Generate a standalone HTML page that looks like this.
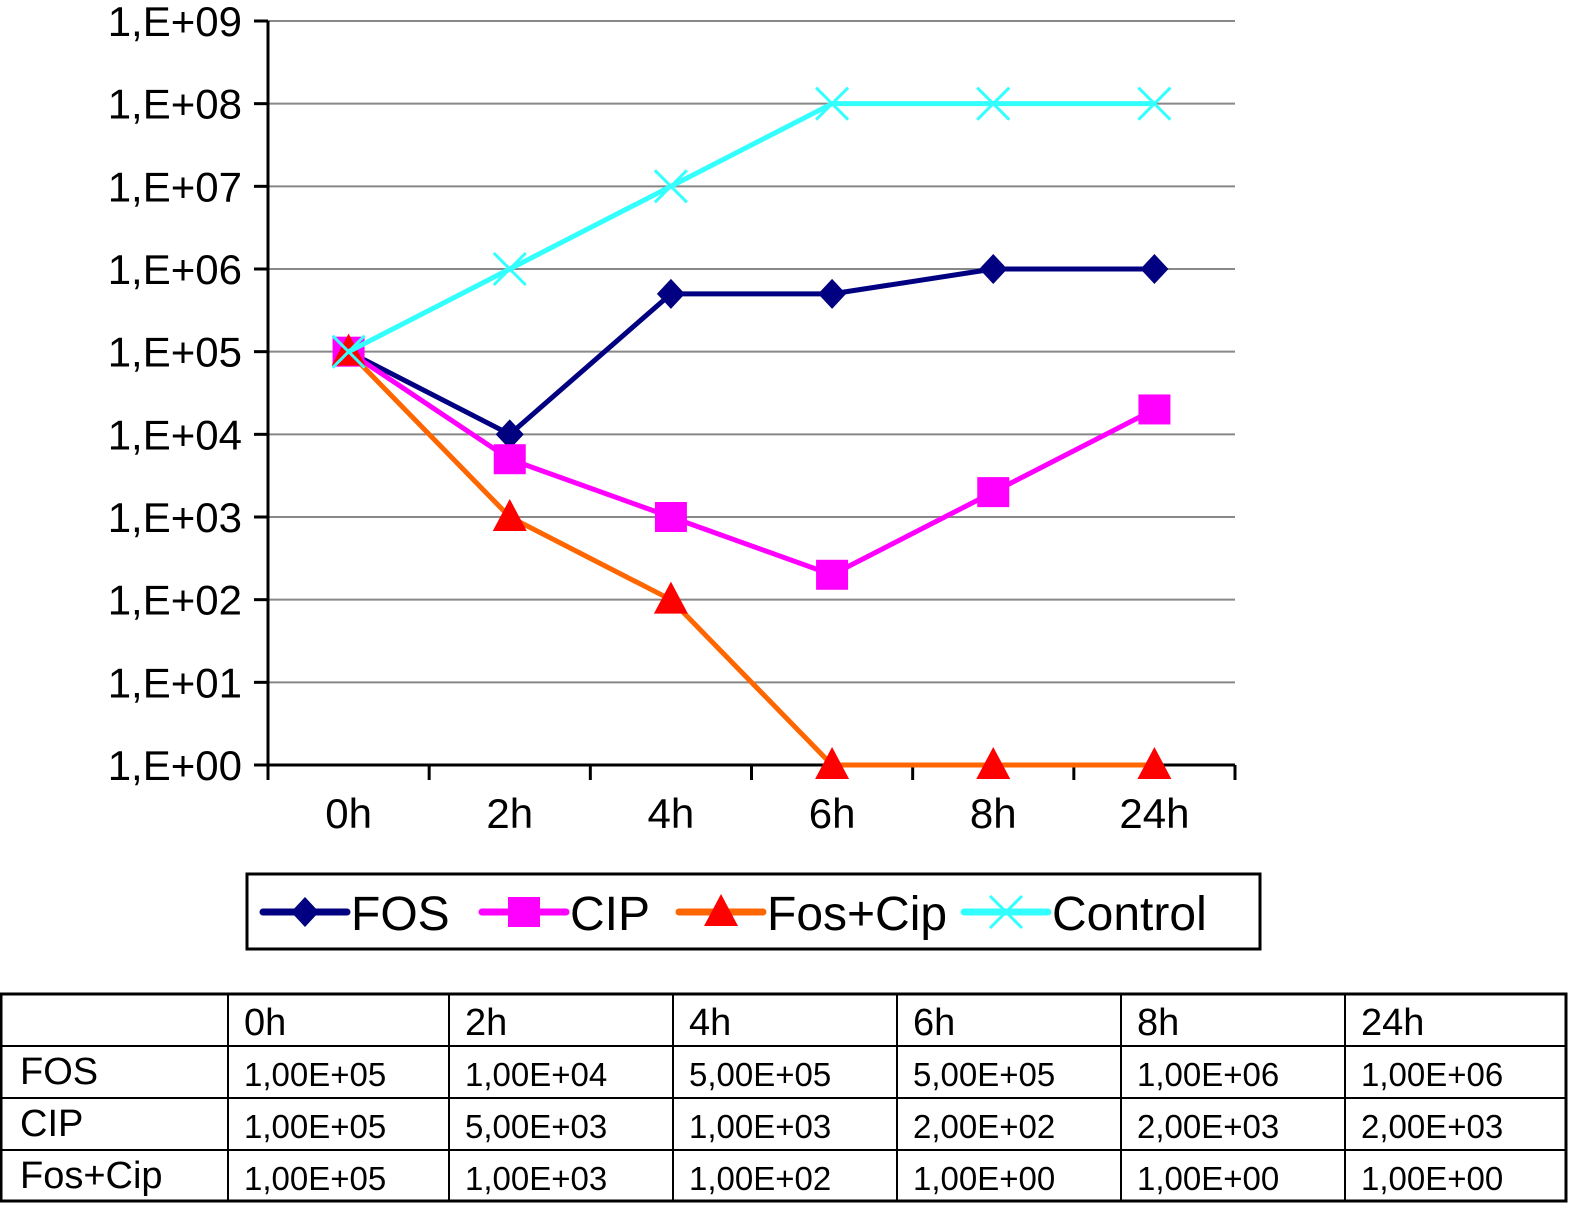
<!DOCTYPE html>
<html><head><meta charset="utf-8"><style>
body{margin:0;background:#fff;width:1583px;height:1213px;overflow:hidden;font-family:"Liberation Sans",sans-serif}
svg{position:absolute;left:0;top:0}
</style></head><body>
<svg id="chart" width="1583" height="1213"></svg>
<script>
const categories=["0h","2h","4h","6h","8h","24h"];
const fosValues=[1e5,1e4,5e5,5e5,1e6,1e6];
const cipValues=[1e5,5e3,1e3,2e2,2e3,2e4];
const fosCipValues=[1e5,1e3,1e2,1,1,1];
const controlValues=[1e5,1e6,1e7,1e8,1e8,1e8];
const yTickLabels=["1,E+00","1,E+01","1,E+02","1,E+03","1,E+04","1,E+05","1,E+06","1,E+07","1,E+08","1,E+09"];
const tableRows=[["FOS",["1,00E+05","1,00E+04","5,00E+05","5,00E+05","1,00E+06","1,00E+06"]],
["CIP",["1,00E+05","5,00E+03","1,00E+03","2,00E+02","2,00E+03","2,00E+03"]],
["Fos+Cip",["1,00E+05","1,00E+03","1,00E+02","1,00E+00","1,00E+00","1,00E+00"]]];

const svg=document.getElementById('chart');const NS='http://www.w3.org/2000/svg';
function el(t,a,p){const e=document.createElementNS(NS,t);for(const k in a)e.setAttribute(k,a[k]);(p||svg).appendChild(e);return e;}
const X0=268,X1=1235,Y0=765,Y1=21;
const bw=(X1-X0)/categories.length;
const xs=i=>X0+bw*(i+0.5);
const ys=v=>Y0-(Math.log10(v)/9)*(Y0-Y1);
yTickLabels.forEach((l,i)=>{const y=Y0-i*(Y0-Y1)/9;
 if(i>0){const g=el('line',{x1:X0,x2:X1,y1:y,y2:y,stroke:'#888','stroke-width':2});
 }
 el('line',{x1:X0-14,x2:X0,y1:y,y2:y,stroke:'#000','stroke-width':3});
 const t=el('text',{x:X0-26,y:y+15,'text-anchor':'end','font-size':42});t.textContent=l;
 });
el('line',{x1:X0,x2:X0,y1:Y1,y2:Y0,stroke:'#000','stroke-width':3});
el('line',{x1:X0,x2:X1,y1:Y0,y2:Y0,stroke:'#000','stroke-width':3});
for(let i=0;i<=categories.length;i++){const x=X0+i*bw;el('line',{x1:x,x2:x,y1:Y0,y2:Y0+15,stroke:'#000','stroke-width':3});}
categories.forEach((c,i)=>{const t=el('text',{x:xs(i),y:828,'text-anchor':'middle','font-size':42});t.textContent=c;
 });
function marker(type,x,y,col,g){
 if(type==='d')el('polygon',{points:`${x},${y-15} ${x+14},${y} ${x},${y+15} ${x-14},${y}`,fill:col},g);
 else if(type==='s')el('rect',{x:x-16,y:y-15,width:32,height:30,fill:col},g);
 else if(type==='t')el('polygon',{points:`${x},${y-18} ${x+17},${y+14} ${x-17},${y+14}`,fill:col},g);
 else{el('line',{x1:x-16,y1:y-16,x2:x+16,y2:y+16,stroke:col,'stroke-width':3},g);el('line',{x1:x-16,y1:y+16,x2:x+16,y2:y-16,stroke:col,'stroke-width':3},g);}
}
const series=[["FOS",fosValues,'#000080','d','series-fos'],["CIP",cipValues,'#ff00ff','s','series-cip'],["Fos+Cip",fosCipValues,'#ff6600','t','series-fos-cip'],["Control",controlValues,'#33ffff','x','series-control']];
const mcol={'d':'#000080','s':'#ff00ff','t':'#ff0000','x':'#33ffff'};
series.forEach(s=>{const g=el('g',{});
 el('polyline',{points:s[1].map((v,i)=>xs(i)+','+ys(v)).join(' '),fill:'none',stroke:s[2],'stroke-width':5,'stroke-linejoin':'round'},g);
 s[1].forEach((v,i)=>marker(s[3],xs(i),ys(v),mcol[s[3]],g));});
const lg=el('g',{});
el('rect',{x:247,y:874,width:1013,height:75,fill:'#fff',stroke:'#000','stroke-width':3},lg);
const lx=[263,482,679,964];
series.forEach((s,i)=>{const y=912;const e=el('g',{},lg);
 el('line',{x1:lx[i],x2:lx[i]+84,y1:y,y2:y,stroke:s[2],'stroke-width':7,'stroke-linecap':'round'},e);
 marker(s[3],lx[i]+42,y,mcol[s[3]],e);
 const t=el('text',{x:lx[i]+88,y:y+18,'font-size':48},e);t.textContent=s[0];});
const tb=el('g',{});
const cx=[1,228,449,673,897,1121,1345,1566],ry=[994,1046,1098,1150,1201];
el('rect',{x:1,y:994,width:1565,height:207,fill:'none',stroke:'#000','stroke-width':3},tb);
cx.slice(1,-1).forEach(x=>el('line',{x1:x,x2:x,y1:994,y2:1201,stroke:'#000','stroke-width':2},tb));
ry.slice(1,-1).forEach(y=>el('line',{x1:1,x2:1566,y1:y,y2:y,stroke:'#000','stroke-width':2},tb));
categories.forEach((c,i)=>{const t=el('text',{x:cx[i+1]+16,y:1035,'font-size':38},tb);t.textContent=c;});
tableRows.forEach((r,j)=>{const t=el('text',{x:20,y:ry[j+1]+38,'font-size':38},tb);t.textContent=r[0];
 r[1].forEach((v,i)=>{const u=el('text',{x:cx[i+1]+16,y:ry[j+1]+40,'font-size':33},tb);u.textContent=v;});});
</script>
</body></html>
